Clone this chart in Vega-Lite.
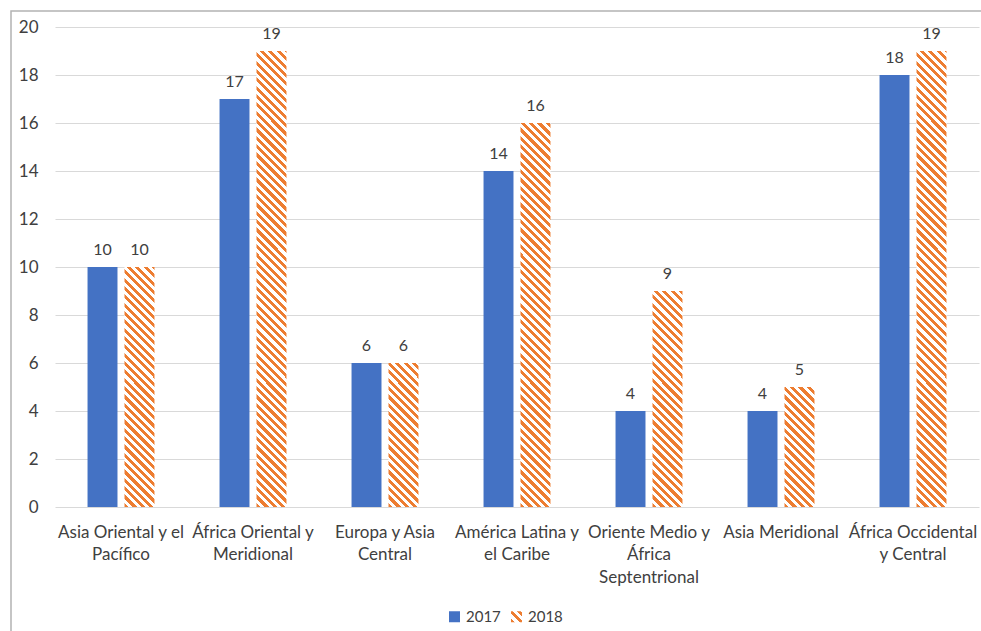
{
  "$schema": "https://vega.github.io/schema/vega-lite/v6.json",
  "width": 972,
  "height": 622,
  "autosize": {"type": "none"},
  "padding": {"left": 11, "top": 11, "right": -2, "bottom": -2},
  "background": "white",
  "params": [
    {
      "name": "hatch",
      "value": [
        {"offset":0,"color":"#ED7D31"},
        {"offset":0.008,"color":"#ED7D31"},{"offset":0.008,"color":"#fff"},
        {"offset":0.016,"color":"#fff"},{"offset":0.016,"color":"#ED7D31"},
        {"offset":0.024,"color":"#ED7D31"},{"offset":0.024,"color":"#fff"},
        {"offset":0.032,"color":"#fff"},{"offset":0.032,"color":"#ED7D31"},
        {"offset":0.04,"color":"#ED7D31"},{"offset":0.04,"color":"#fff"},
        {"offset":0.048,"color":"#fff"},{"offset":0.048,"color":"#ED7D31"},
        {"offset":0.056,"color":"#ED7D31"},{"offset":0.056,"color":"#fff"},
        {"offset":0.064,"color":"#fff"},{"offset":0.064,"color":"#ED7D31"},
        {"offset":0.072,"color":"#ED7D31"},{"offset":0.072,"color":"#fff"},
        {"offset":0.08,"color":"#fff"},{"offset":0.08,"color":"#ED7D31"},
        {"offset":0.088,"color":"#ED7D31"},{"offset":0.088,"color":"#fff"},
        {"offset":0.096,"color":"#fff"},{"offset":0.096,"color":"#ED7D31"},
        {"offset":0.104,"color":"#ED7D31"},{"offset":0.104,"color":"#fff"},
        {"offset":0.112,"color":"#fff"},{"offset":0.112,"color":"#ED7D31"},
        {"offset":0.12,"color":"#ED7D31"},{"offset":0.12,"color":"#fff"},
        {"offset":0.128,"color":"#fff"},{"offset":0.128,"color":"#ED7D31"},
        {"offset":0.136,"color":"#ED7D31"},{"offset":0.136,"color":"#fff"},
        {"offset":0.144,"color":"#fff"},{"offset":0.144,"color":"#ED7D31"},
        {"offset":0.152,"color":"#ED7D31"},{"offset":0.152,"color":"#fff"},
        {"offset":0.16,"color":"#fff"},{"offset":0.16,"color":"#ED7D31"},
        {"offset":0.168,"color":"#ED7D31"},{"offset":0.168,"color":"#fff"},
        {"offset":0.176,"color":"#fff"},{"offset":0.176,"color":"#ED7D31"},
        {"offset":0.184,"color":"#ED7D31"},{"offset":0.184,"color":"#fff"},
        {"offset":0.192,"color":"#fff"},{"offset":0.192,"color":"#ED7D31"},
        {"offset":0.2,"color":"#ED7D31"},{"offset":0.2,"color":"#fff"},
        {"offset":0.208,"color":"#fff"},{"offset":0.208,"color":"#ED7D31"},
        {"offset":0.216,"color":"#ED7D31"},{"offset":0.216,"color":"#fff"},
        {"offset":0.224,"color":"#fff"},{"offset":0.224,"color":"#ED7D31"},
        {"offset":0.232,"color":"#ED7D31"},{"offset":0.232,"color":"#fff"},
        {"offset":0.24,"color":"#fff"},{"offset":0.24,"color":"#ED7D31"},
        {"offset":0.248,"color":"#ED7D31"},{"offset":0.248,"color":"#fff"},
        {"offset":0.256,"color":"#fff"},{"offset":0.256,"color":"#ED7D31"},
        {"offset":0.264,"color":"#ED7D31"},{"offset":0.264,"color":"#fff"},
        {"offset":0.272,"color":"#fff"},{"offset":0.272,"color":"#ED7D31"},
        {"offset":0.28,"color":"#ED7D31"},{"offset":0.28,"color":"#fff"},
        {"offset":0.288,"color":"#fff"},{"offset":0.288,"color":"#ED7D31"},
        {"offset":0.296,"color":"#ED7D31"},{"offset":0.296,"color":"#fff"},
        {"offset":0.304,"color":"#fff"},{"offset":0.304,"color":"#ED7D31"},
        {"offset":0.312,"color":"#ED7D31"},{"offset":0.312,"color":"#fff"},
        {"offset":0.32,"color":"#fff"},{"offset":0.32,"color":"#ED7D31"},
        {"offset":0.328,"color":"#ED7D31"},{"offset":0.328,"color":"#fff"},
        {"offset":0.336,"color":"#fff"},{"offset":0.336,"color":"#ED7D31"},
        {"offset":0.344,"color":"#ED7D31"},{"offset":0.344,"color":"#fff"},
        {"offset":0.352,"color":"#fff"},{"offset":0.352,"color":"#ED7D31"},
        {"offset":0.36,"color":"#ED7D31"},{"offset":0.36,"color":"#fff"},
        {"offset":0.368,"color":"#fff"},{"offset":0.368,"color":"#ED7D31"},
        {"offset":0.376,"color":"#ED7D31"},{"offset":0.376,"color":"#fff"},
        {"offset":0.384,"color":"#fff"},{"offset":0.384,"color":"#ED7D31"},
        {"offset":0.392,"color":"#ED7D31"},{"offset":0.392,"color":"#fff"},
        {"offset":0.4,"color":"#fff"},{"offset":0.4,"color":"#ED7D31"},
        {"offset":0.408,"color":"#ED7D31"},{"offset":0.408,"color":"#fff"},
        {"offset":0.416,"color":"#fff"},{"offset":0.416,"color":"#ED7D31"},
        {"offset":0.424,"color":"#ED7D31"},{"offset":0.424,"color":"#fff"},
        {"offset":0.432,"color":"#fff"},{"offset":0.432,"color":"#ED7D31"},
        {"offset":0.44,"color":"#ED7D31"},{"offset":0.44,"color":"#fff"},
        {"offset":0.448,"color":"#fff"},{"offset":0.448,"color":"#ED7D31"},
        {"offset":0.456,"color":"#ED7D31"},{"offset":0.456,"color":"#fff"},
        {"offset":0.464,"color":"#fff"},{"offset":0.464,"color":"#ED7D31"},
        {"offset":0.472,"color":"#ED7D31"},{"offset":0.472,"color":"#fff"},
        {"offset":0.48,"color":"#fff"},{"offset":0.48,"color":"#ED7D31"},
        {"offset":0.488,"color":"#ED7D31"},{"offset":0.488,"color":"#fff"},
        {"offset":0.496,"color":"#fff"},{"offset":0.496,"color":"#ED7D31"},
        {"offset":0.504,"color":"#ED7D31"},{"offset":0.504,"color":"#fff"},
        {"offset":0.512,"color":"#fff"},{"offset":0.512,"color":"#ED7D31"},
        {"offset":0.52,"color":"#ED7D31"},{"offset":0.52,"color":"#fff"},
        {"offset":0.528,"color":"#fff"},{"offset":0.528,"color":"#ED7D31"},
        {"offset":0.536,"color":"#ED7D31"},{"offset":0.536,"color":"#fff"},
        {"offset":0.544,"color":"#fff"},{"offset":0.544,"color":"#ED7D31"},
        {"offset":0.552,"color":"#ED7D31"},{"offset":0.552,"color":"#fff"},
        {"offset":0.56,"color":"#fff"},{"offset":0.56,"color":"#ED7D31"},
        {"offset":0.568,"color":"#ED7D31"},{"offset":0.568,"color":"#fff"},
        {"offset":0.576,"color":"#fff"},{"offset":0.576,"color":"#ED7D31"},
        {"offset":0.584,"color":"#ED7D31"},{"offset":0.584,"color":"#fff"},
        {"offset":0.592,"color":"#fff"},{"offset":0.592,"color":"#ED7D31"},
        {"offset":0.6,"color":"#ED7D31"},{"offset":0.6,"color":"#fff"},
        {"offset":0.608,"color":"#fff"},{"offset":0.608,"color":"#ED7D31"},
        {"offset":0.616,"color":"#ED7D31"},{"offset":0.616,"color":"#fff"},
        {"offset":0.624,"color":"#fff"},{"offset":0.624,"color":"#ED7D31"},
        {"offset":0.632,"color":"#ED7D31"},{"offset":0.632,"color":"#fff"},
        {"offset":0.64,"color":"#fff"},{"offset":0.64,"color":"#ED7D31"},
        {"offset":0.648,"color":"#ED7D31"},{"offset":0.648,"color":"#fff"},
        {"offset":0.656,"color":"#fff"},{"offset":0.656,"color":"#ED7D31"},
        {"offset":0.664,"color":"#ED7D31"},{"offset":0.664,"color":"#fff"},
        {"offset":0.672,"color":"#fff"},{"offset":0.672,"color":"#ED7D31"},
        {"offset":0.68,"color":"#ED7D31"},{"offset":0.68,"color":"#fff"},
        {"offset":0.688,"color":"#fff"},{"offset":0.688,"color":"#ED7D31"},
        {"offset":0.696,"color":"#ED7D31"},{"offset":0.696,"color":"#fff"},
        {"offset":0.704,"color":"#fff"},{"offset":0.704,"color":"#ED7D31"},
        {"offset":0.712,"color":"#ED7D31"},{"offset":0.712,"color":"#fff"},
        {"offset":0.72,"color":"#fff"},{"offset":0.72,"color":"#ED7D31"},
        {"offset":0.728,"color":"#ED7D31"},{"offset":0.728,"color":"#fff"},
        {"offset":0.736,"color":"#fff"},{"offset":0.736,"color":"#ED7D31"},
        {"offset":0.744,"color":"#ED7D31"},{"offset":0.744,"color":"#fff"},
        {"offset":0.752,"color":"#fff"},{"offset":0.752,"color":"#ED7D31"},
        {"offset":0.76,"color":"#ED7D31"},{"offset":0.76,"color":"#fff"},
        {"offset":0.768,"color":"#fff"},{"offset":0.768,"color":"#ED7D31"},
        {"offset":0.776,"color":"#ED7D31"},{"offset":0.776,"color":"#fff"},
        {"offset":0.784,"color":"#fff"},{"offset":0.784,"color":"#ED7D31"},
        {"offset":0.792,"color":"#ED7D31"},{"offset":0.792,"color":"#fff"},
        {"offset":0.8,"color":"#fff"},{"offset":0.8,"color":"#ED7D31"},
        {"offset":0.808,"color":"#ED7D31"},{"offset":0.808,"color":"#fff"},
        {"offset":0.816,"color":"#fff"},{"offset":0.816,"color":"#ED7D31"},
        {"offset":0.824,"color":"#ED7D31"},{"offset":0.824,"color":"#fff"},
        {"offset":0.832,"color":"#fff"},{"offset":0.832,"color":"#ED7D31"},
        {"offset":0.84,"color":"#ED7D31"},{"offset":0.84,"color":"#fff"},
        {"offset":0.848,"color":"#fff"},{"offset":0.848,"color":"#ED7D31"},
        {"offset":0.856,"color":"#ED7D31"},{"offset":0.856,"color":"#fff"},
        {"offset":0.864,"color":"#fff"},{"offset":0.864,"color":"#ED7D31"},
        {"offset":0.872,"color":"#ED7D31"},{"offset":0.872,"color":"#fff"},
        {"offset":0.88,"color":"#fff"},{"offset":0.88,"color":"#ED7D31"},
        {"offset":0.888,"color":"#ED7D31"},{"offset":0.888,"color":"#fff"},
        {"offset":0.896,"color":"#fff"},{"offset":0.896,"color":"#ED7D31"},
        {"offset":0.904,"color":"#ED7D31"},{"offset":0.904,"color":"#fff"},
        {"offset":0.912,"color":"#fff"},{"offset":0.912,"color":"#ED7D31"},
        {"offset":0.92,"color":"#ED7D31"},{"offset":0.92,"color":"#fff"},
        {"offset":0.928,"color":"#fff"},{"offset":0.928,"color":"#ED7D31"},
        {"offset":0.936,"color":"#ED7D31"},{"offset":0.936,"color":"#fff"},
        {"offset":0.944,"color":"#fff"},{"offset":0.944,"color":"#ED7D31"}
      ]
    }
  ],
  "data": {
    "values": [
      {"region": "Asia Oriental y el Pacífico", "year": "2017", "value": 10},
      {"region": "Asia Oriental y el Pacífico", "year": "2018", "value": 10},
      {"region": "África Oriental y Meridional", "year": "2017", "value": 17},
      {"region": "África Oriental y Meridional", "year": "2018", "value": 19},
      {"region": "Europa y Asia Central", "year": "2017", "value": 6},
      {"region": "Europa y Asia Central", "year": "2018", "value": 6},
      {"region": "América Latina y el Caribe", "year": "2017", "value": 14},
      {"region": "América Latina y el Caribe", "year": "2018", "value": 16},
      {"region": "Oriente Medio y África Septentrional", "year": "2017", "value": 4},
      {"region": "Oriente Medio y África Septentrional", "year": "2018", "value": 9},
      {"region": "Asia Meridional", "year": "2017", "value": 4},
      {"region": "Asia Meridional", "year": "2018", "value": 5},
      {"region": "África Occidental y Central", "year": "2017", "value": 18},
      {"region": "África Occidental y Central", "year": "2018", "value": 19}
    ]
  },
  "encoding": {
    "x": {
      "field": "region",
      "type": "nominal",
      "sort": null,
      "scale": {"paddingInner": 0, "paddingOuter": 0, "range": [44, 968]},
      "axis": {
        "title": null,
        "domain": false,
        "ticks": false,
        "grid": false,
        "offset": -126,
        "labelAngle": 0,
        "labelPadding": 17,
        "labelFont": "Lato",
        "labelFontSize": 17,
        "labelColor": "#404040",
        "labelLineHeight": 22.5,
        "labelLimit": 0,
        "labelExpr": "datum.label == 'Asia Oriental y el Pacífico' ? ['Asia Oriental y el', 'Pacífico'] : datum.label == 'África Oriental y Meridional' ? ['África Oriental y', 'Meridional'] : datum.label == 'Europa y Asia Central' ? ['Europa y Asia', 'Central'] : datum.label == 'América Latina y el Caribe' ? ['América Latina y', 'el Caribe'] : datum.label == 'Oriente Medio y África Septentrional' ? ['Oriente Medio y', 'África', 'Septentrional'] : datum.label == 'África Occidental y Central' ? ['África Occidental', 'y Central'] : datum.label"
      }
    },
    "xOffset": {
      "field": "year",
      "type": "nominal",
      "scale": {"domain": ["2017", "2018"], "paddingInner": 0.19, "paddingOuter": 0.88}
    },
    "y": {
      "field": "value",
      "type": "quantitative",
      "stack": null,
      "scale": {"domain": [0, 20], "nice": false, "range": [496, 16]},
      "axis": {
        "title": null,
        "values": [0, 2, 4, 6, 8, 10, 12, 14, 16, 18, 20],
        "domain": false,
        "grid": false,
        "ticks": true,
        "tickSize": -924,
        "tickColor": "#d9d9d9",
        "tickWidth": 1,
        "offset": -44,
        "zindex": 0,
        "labelPadding": 941,
        "labelFont": "Lato",
        "labelFontSize": 17,
        "labelColor": "#404040"
      }
    }
  },
  "layer": [
    {
      "mark": {"type": "bar"},
      "encoding": {
        "color": {
          "field": "year",
          "type": "nominal",
          "scale": {
            "domain": ["2017", "2018"],
            "range": ["#4472C4", {"expr": "{gradient: 'linear', x1: 0, y1: 1, x2: 23.7, y2: -22.7, stops: hatch}"}]
          },
          "condition": {
            "test": "datum.year === '2018'",
            "value": {"expr": "{gradient: 'linear', x1: 0, y1: 1, x2: 521.5 * 30 / (900 + pow(datum.value * 24, 2)), y2: 1 - 521.5 * datum.value * 24 / (900 + pow(datum.value * 24, 2)), stops: hatch}"}
          },
          "legend": {
            "orient": "none",
            "legendX": 436,
            "legendY": 598,
            "direction": "horizontal",
            "title": null,
            "symbolType": "square",
            "symbolSize": 121,
            "symbolStrokeWidth": 0,
            "symbolOpacity": 1,
            "labelFont": "Lato",
            "labelFontSize": 15,
            "labelColor": "#404040",
            "labelOffset": 4,
            "columnPadding": 8
          }
        }
      }
    },
    {
      "mark": {"type": "text", "baseline": "alphabetic", "dy": -12, "font": "Lato", "fontSize": 16, "color": "#404040"},
      "encoding": {
        "text": {"field": "value", "type": "quantitative"}
      }
    }
  ],
  "config": {
    "view": {"stroke": "#b3b3b3", "strokeWidth": 1.5, "fill": "white"}
  }
}
